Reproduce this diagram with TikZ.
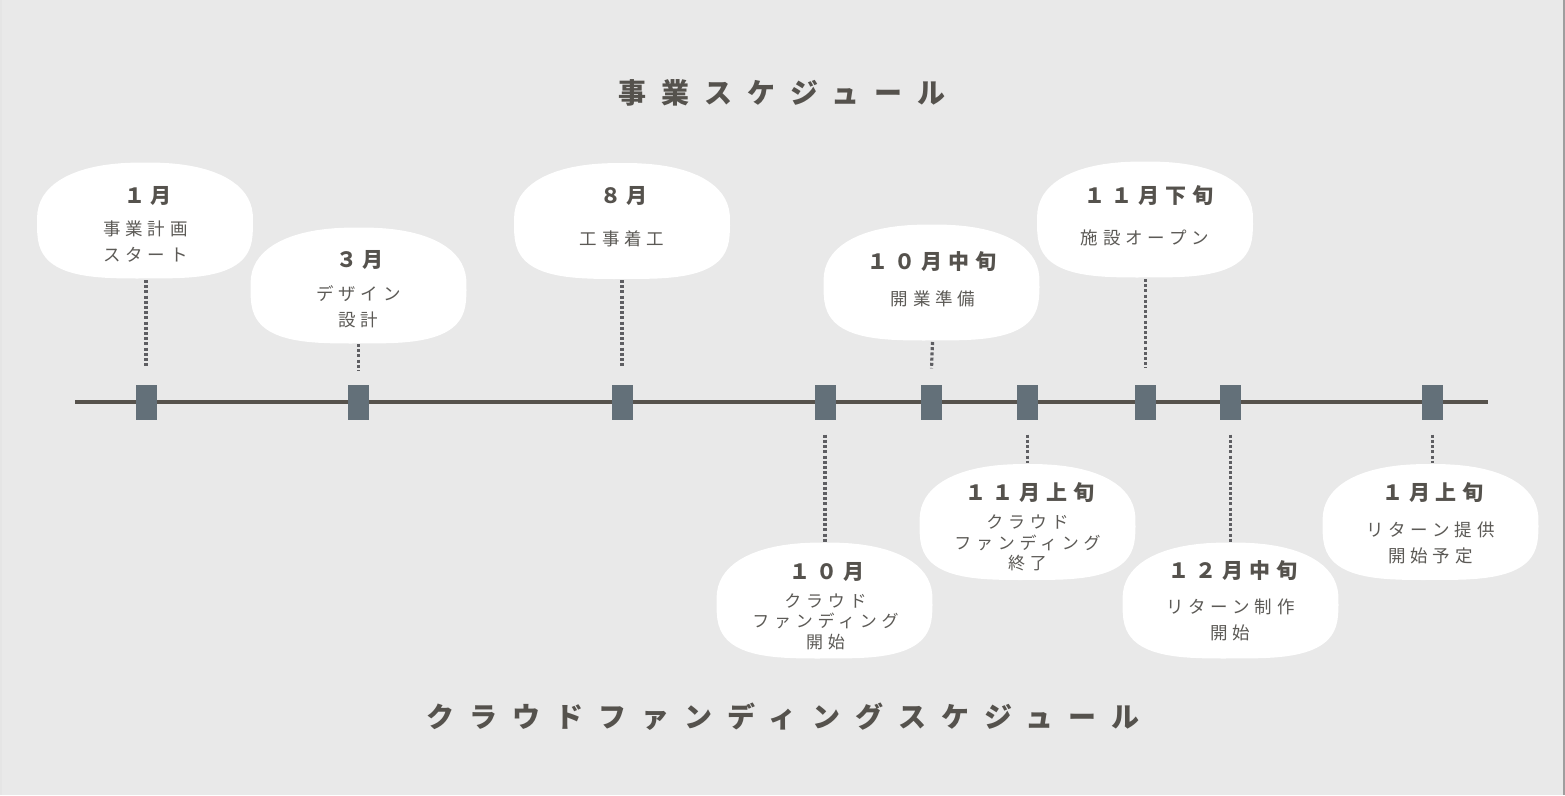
\documentclass[tikz,border=0pt]{standalone}
\usepackage{fontspec}
\usetikzlibrary{calc}
\newfontfamily\jptitle{Noto Sans CJK JP}[LetterSpace=54]
\newfontfamily\jpmonth{Noto Sans CJK JP}[LetterSpace=28]
\newfontfamily\jpdesc{Noto Sans CJK JP}[LetterSpace=28]
\definecolor{bg}{HTML}{E9E9E9}
\definecolor{txt}{HTML}{55524D}
\definecolor{txtb}{HTML}{5C5A56}
\definecolor{mk}{HTML}{637079}
\definecolor{tl}{HTML}{56524C}
\definecolor{dotc}{HTML}{5E5E62}
\newcommand\blobat[2]{\fill[white] plot[domain=1:356,samples=72] ({#1+108*bx(\x)},{#2+58*by(\x)}) -- cycle;}
\begin{document}
\begin{tikzpicture}[x=1pt,y=-1pt,
  declare function={bx(\t)=sign(cos(\t))*abs(cos(\t))^(sin(\t)>0?0.62:0.85);
                    by(\t)=sign(sin(\t))*abs(sin(\t))^(sin(\t)>0?0.62:0.85);},
  heading/.style={font=\jptitle\bfseries\fontsize{28}{28}\selectfont, text=txt, inner sep=0pt},
  month/.style={font=\jpmonth\bfseries\fontsize{21}{21}\selectfont, text=txt, inner sep=0pt},
  desc/.style={font=\jpdesc\fontsize{17.5}{26}\selectfont, text=txtb, align=center, inner sep=0pt},
  desctight/.style={font=\jpdesc\fontsize{17}{20.5}\selectfont, text=txtb, align=center, inner sep=0pt},
  marker/.style={fill=mk, draw=none, minimum width=21pt, minimum height=35pt, inner sep=0pt},
  dots/.style={draw=dotc, line width=3.2pt, dash pattern=on 3pt off 2.2pt}]
\useasboundingbox (0,0) rectangle (1565,795);
\fill[bg] (0,0) rectangle (1565,795);
\draw[color=black!10, line width=1.5pt] (1,0) -- (1,795);
\draw[color=black!38, line width=2pt] (1563.5,0) -- (1563.5,795);

% headings
\node[heading] (h1) at (782,93) {事業スケジュール};
\node[heading] (h2) at (783,717) {クラウドファンディングスケジュール};

% blobs
\blobat{145}{220.5}
\blobat{358.5}{285.5}
\blobat{622}{221}
\blobat{931.5}{282.5}
\blobat{1145}{219.5}
\blobat{824.5}{600.5}
\blobat{1027.5}{522}
\blobat{1230.5}{600.5}
\blobat{1430.5}{522}

% timeline
\coordinate (ls) at (75,402);
\coordinate (le) at (1488,402);
\draw[tl, line width=4pt] (ls) -- (le);
\node[marker] (m1) at (146,402) {};
\node[marker] (m2) at (358.5,402) {};
\node[marker] (m3) at (622,402) {};
\node[marker] (m4) at (825,402) {};
\node[marker] (m5) at (931.5,402) {};
\node[marker] (m6) at (1027.5,402) {};
\node[marker] (m7) at (1145.5,402) {};
\node[marker] (m8) at (1230.5,402) {};
\node[marker] (m9) at (1432.5,402) {};

% blob edge coordinates
\coordinate (b1) at (146,280);
\coordinate (b2) at (358.5,344);
\coordinate (b3) at (622,280);
\coordinate (b5) at (932.5,342);
\coordinate (b7) at (1145.5,279);
\coordinate (b4) at (825,542);
\coordinate (b6) at (1027.5,463);
\coordinate (b8) at (1230.5,542);
\coordinate (b9) at (1432.5,463);

% dotted connectors
\draw[dots] (b1) -- ($(m1.north)+(0,-16)$);
\draw[dots] (b2) -- ($(m2.north)+(0,-14)$);
\draw[dots] (b3) -- ($(m3.north)+(0,-16)$);
\draw[dots] (b5) -- ($(m5.north)+(0,-16)$);
\draw[dots] (b7) -- ($(m7.north)+(0,-16)$);
\draw[dots] ($(m4.south)+(0,15)$) -- (b4);
\draw[dots] ($(m6.south)+(0,15)$) -- (b6);
\draw[dots] ($(m8.south)+(0,15)$) -- (b8);
\draw[dots] ($(m9.south)+(0,15)$) -- (b9);

% labels
\node[month] (t1) at (148,196) {１月};
\node[desc] (d1) at (145.5,242) {事業計画\\スタート};
\node[month] (t2) at (360,260) {３月};
\node[desc] (d2) at (358.5,306.5) {デザイン\\設計};
\node[month] (t3) at (624,196) {８月};
\node[desc] (d3) at (622,239) {工事着工};
\node[month] (t5) at (932,262) {１０月中旬};
\node[desc] (d5) at (933,299) {開業準備};
\node[month] (t7) at (1149,196) {１１月下旬};
\node[desc] (d7) at (1145,238) {施設オープン};
\node[month] (t4) at (827,572) {１０月};
\node[desctight] (d4) at (825.5,621.5) {クラウド\\ファンディング\\開始};
\node[month] (t6) at (1030,493) {１１月上旬};
\node[desctight] (d6) at (1027.5,543) {クラウド\\ファンディング\\終了};
\node[month] (t8) at (1233,571) {１２月中旬};
\node[desc] (d8) at (1230.5,620) {リターン制作\\開始};
\node[month] (t9) at (1433,493) {１月上旬};
\node[desc] (d9) at (1430.5,543) {リターン提供\\開始予定};
\end{tikzpicture}
\end{document}
